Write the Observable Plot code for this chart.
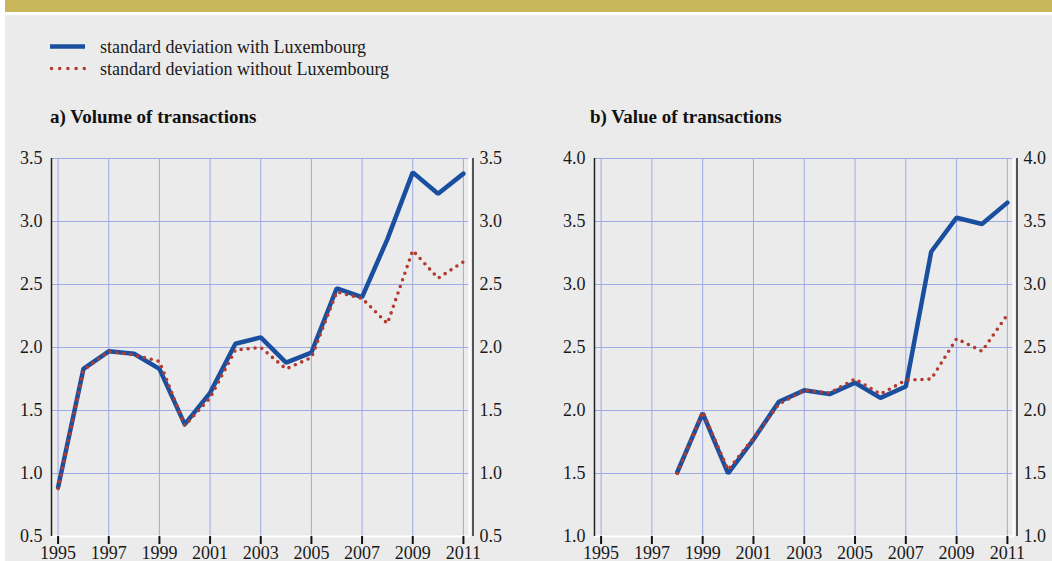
<!DOCTYPE html>
<html>
<head>
<meta charset="utf-8">
<script src="https://cdn.jsdelivr.net/npm/d3@7"></script>
<script src="https://cdn.jsdelivr.net/npm/@observablehq/plot@0.6"></script>
<style>
  html, body { margin: 0; padding: 0; background: #ffffff; }
  #wrap { position: relative; width: 1052px; height: 561px; overflow: hidden; background: #ffffff; font-family: "Liberation Serif", serif; }
  #band { position: absolute; left: 5px; top: 0; width: 1047px; height: 12px; background: #c9b55a; }
  #panelbg { position: absolute; left: 5px; top: 15px; width: 1047px; height: 546px; background: #ebebeb; }
  #head { position: absolute; left: 0; top: 0; }
  #pa { position: absolute; left: 0; top: 140px; }
  #pb { position: absolute; left: 530px; top: 140px; }
</style>
</head>
<body>
<div id="wrap">
  <div id="band"></div>
  <div id="panelbg"></div>
  <svg id="head" width="1052" height="140"></svg>
  <div id="pa"></div>
  <div id="pb"></div>
</div>
<script>
// ---- data ----
const volYears = [1995,1996,1997,1998,1999,2000,2001,2002,2003,2004,2005,2006,2007,2008,2009,2010,2011];
const volWith    = [0.89,1.83,1.97,1.95,1.83,1.39,1.64,2.03,2.08,1.88,1.96,2.47,2.40,2.86,3.39,3.22,3.38];
const volWithout = [0.88,1.82,1.97,1.94,1.89,1.38,1.60,1.98,2.00,1.83,1.92,2.44,2.39,2.19,2.77,2.55,2.68];

const valYears = [1998,1999,2000,2001,2002,2003,2004,2005,2006,2007,2008,2009,2010,2011];
const valWith    = [1.51,1.98,1.50,1.77,2.07,2.16,2.13,2.22,2.10,2.19,3.26,3.53,3.48,3.65];
const valWithout = [1.50,1.99,1.53,1.78,2.05,2.16,2.14,2.25,2.13,2.24,2.25,2.57,2.47,2.76];

const xTicks = [1995,1997,1999,2001,2003,2005,2007,2009,2011];
const yTicksA = [0.5,1.0,1.5,2.0,2.5,3.0,3.5];
const yTicksB = [1.0,1.5,2.0,2.5,3.0,3.5,4.0];

const seriesNames = ["standard deviation with Luxembourg", "standard deviation without Luxembourg"];
const titles = ["a) Volume of transactions", "b) Value of transactions"];

// ---- styles ----
const BLUE = "#1a4f9f";
const RED = "#b33a2f";
const GRID = "#9eaae4";
const FONT = "'Liberation Serif', serif";
const xDomain = [1994.74, 2011.28];

function panel(years, withVals, withoutVals, yTicks, width, marginLeft, marginRight) {
  const rowsWith = years.map((y, i) => ({year: y, v: withVals[i]}));
  const rowsWithout = years.map((y, i) => ({year: y, v: withoutVals[i]}));
  const yDomain = [yTicks[0], yTicks[yTicks.length - 1]];
  const fmt = d3.format(".1f");
  return Plot.plot({
    width, height: 421,
    marginLeft, marginRight, marginTop: 18, marginBottom: 25,
    x: {domain: xDomain},
    y: {domain: yDomain},
    style: {background: "transparent", fontFamily: FONT, fontSize: "18px", color: "#1a1a1a", overflow: "visible"},
    marks: [
      Plot.ruleY(yTicks.slice(1), {stroke: GRID, strokeWidth: 1}),
      Plot.ruleX(xTicks, {stroke: GRID, strokeWidth: 1}),
      Plot.ruleY([yDomain[0]], {stroke: "white", strokeWidth: 2}),
      Plot.ruleX([xDomain[1]], {stroke: "white", strokeWidth: 2, dx: -1}),
      Plot.ruleX([xDomain[0]], {stroke: "#222", strokeWidth: 1.5}),
      Plot.ruleX([xDomain[1]], {stroke: "#222", strokeWidth: 1.5, dx: 2.5}),
      Plot.lineY(rowsWith, {x: "year", y: "v", stroke: BLUE, strokeWidth: 4.5, strokeLinejoin: "miter"}),
      Plot.lineY(rowsWithout, {x: "year", y: "v", stroke: RED, strokeWidth: 3.6, strokeDasharray: "0 7", strokeLinecap: "round"}),
      Plot.axisY(yTicks, {anchor: "left", tickSize: 0, tickPadding: 9, tickFormat: fmt, label: null, fontSize: 18, fontFamily: FONT}),
      Plot.axisY(yTicks, {anchor: "right", tickSize: 0, tickPadding: 9, tickFormat: fmt, label: null, fontSize: 18, fontFamily: FONT}),
      Plot.axisX(xTicks, {anchor: "bottom", tickSize: 8, tickPadding: 2, tickFormat: "d", stroke: "#111", strokeWidth: 2, label: null, fontSize: 18, fontFamily: FONT})
    ]
  });
}

document.getElementById("pa").appendChild(panel(volYears, volWith, volWithout, yTicksA, 525, 51, 55));
document.getElementById("pb").appendChild(panel(valYears, valWith, valWithout, yTicksB, 522, 64, 38));

// ---- legend & titles ----
const head = d3.select("#head");
head.append("line").attr("x1", 50).attr("x2", 85).attr("y1", 46.5).attr("y2", 46.5)
  .attr("stroke", BLUE).attr("stroke-width", 4.5);
head.append("line").attr("x1", 51.5).attr("x2", 86).attr("y1", 68.5).attr("y2", 68.5)
  .attr("stroke", RED).attr("stroke-width", 3.6).attr("stroke-dasharray", "0 8.2").attr("stroke-linecap", "round");
seriesNames.forEach((t, i) => {
  head.append("text").attr("x", 100).attr("y", 53 + i * 22)
    .attr("font-family", FONT).attr("font-size", 18).attr("fill", "#1a1a1a").text(t);
});
head.append("text").attr("x", 50).attr("y", 123).attr("font-family", FONT)
  .attr("font-size", 19).attr("font-weight", "bold").attr("fill", "#111").text(titles[0]);
head.append("text").attr("x", 590).attr("y", 123).attr("font-family", FONT)
  .attr("font-size", 19).attr("font-weight", "bold").attr("fill", "#111").text(titles[1]);
</script>
</body>
</html>
